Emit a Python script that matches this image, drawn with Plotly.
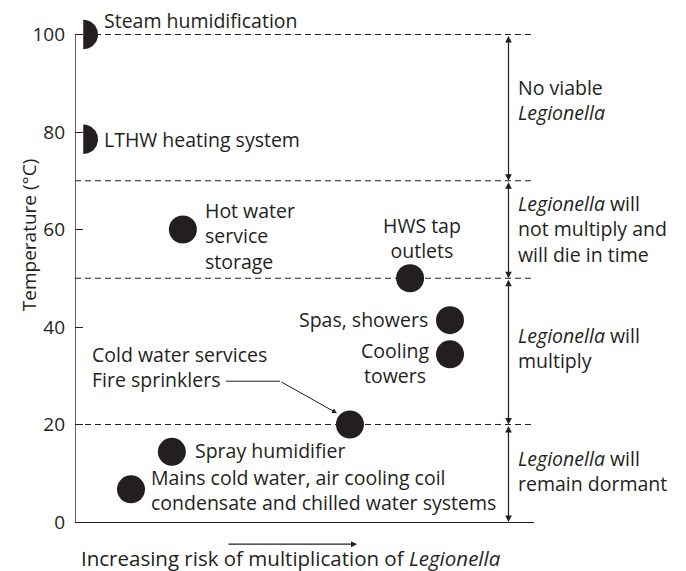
import numpy as np
import plotly.graph_objects as go

# ---------------- data ----------------
half_names = ["Steam humidification", "LTHW heating system"]
half_risk = [1.8, 1.8]
half_temp = [100, 78.5]

names = ["Hot water service storage", "HWS tap outlets", "Spas, showers",
         "Cooling towers", "Cold water services / Fire sprinklers",
         "Spray humidifier", "Mains cold water, air cooling coil condensate and chilled water systems"]
risk = [23.5, 73.0, 81.7, 81.7, 59.9, 21.1, 12.2]
temp = [60, 50, 41.4, 34.4, 20, 14.4, 6.7]

zone_bounds = [100, 70, 50, 20, 0]
zone_labels = [["No viable", "<i>Legionella</i>"],
               ["<i>Legionella</i> will", "not multiply and", "will die in time"],
               ["<i>Legionella</i> will", "multiply"],
               ["<i>Legionella</i> will", "remain dormant"]]
dashed_levels = [100, 70, 50, 20]
y_ticks = [0, 20, 40, 60, 80, 100]

# ---------------- layout constants ----------------
BODY = 8                      # default page margin around the plot div
W, H = 686 - BODY, 571 - BODY
ML, MT = 75 - BODY, 15 - BODY
PW, PH = 459, 507
MR, MB = W - ML - PW, H - MT - PH
XR = [0, 100]
YR = [0, 104]
px_x = (XR[1] - XR[0]) / PW   # data units per px
px_y = (YR[1] - YR[0]) / PH
X0, Y0 = 75, 521.8            # window px of data origin

def dx(p):  # window px -> x data
    return (p - X0) * px_x

def dy(p):  # window px -> y data
    return (Y0 - p) * px_y

INK = "#231f20"
FONT = "Open Sans"
FS = 19.5

fig = go.Figure()

# half circles at the axis
r_px = 14.8
th = np.linspace(-np.pi / 2, np.pi / 2, 60)
for xr, yt in zip(half_risk, half_temp):
    xs = list(xr + r_px * px_x * np.cos(th)) + [xr]
    ys = list(yt + r_px * px_y * np.sin(th)) + [yt - r_px * px_y]
    fig.add_trace(go.Scatter(x=xs, y=ys, mode="lines", fill="toself",
                             fillcolor=INK, line=dict(width=0, color=INK),
                             hoverinfo="skip", showlegend=False))

# full circles
fig.add_trace(go.Scatter(x=risk, y=temp, mode="markers",
                         marker=dict(size=28, color=INK, line=dict(width=0)),
                         text=names, hoverinfo="text", showlegend=False))

shapes = []
for lv in dashed_levels:
    shapes.append(dict(type="line", xref="x", yref="y", x0=0, x1=100, y0=lv, y1=lv,
                       line=dict(color=INK, width=1.2, dash="6px,4px"), layer="below"))
# y axis line (0..100)
shapes.append(dict(type="line", xref="x", yref="y", x0=0, x1=0, y0=0, y1=100,
                   line=dict(color=INK, width=1.4)))
# leader line for cold water services
shapes.append(dict(type="line", xref="x", yref="y", x0=dx(226), x1=dx(280), y0=dy(381), y1=dy(381),
                   line=dict(color=INK, width=1)))

ann = []
def label(px, lines, py_center, xanchor="left", align="left", size=FS):
    ann.append(dict(x=dx(px), y=dy(py_center), xref="x", yref="y", text="<br>".join(lines),
                    showarrow=False, xanchor=xanchor, yanchor="middle", align=align,
                    font=dict(family=FONT, size=size, color=INK)))

label(101.7, ["Steam humidification"], 20)
label(101.7, ["LTHW heating system"], 139)
label(203, ["Hot water", "service", "storage"], 236)
label(422, ["HWS tap", "outlets"], 238, xanchor="center", align="center")
label(430, ["Spas, showers"], 319, xanchor="right", align="right")
label(395, ["Cooling", "towers"], 363, xanchor="center", align="center")
label(90, ["Cold water services", "Fire sprinklers"], 367)
label(193, ["Spray humidifier"], 450.5)
label(149, ["Mains cold water, air cooling coil", "condensate and chilled water systems"], 490)

# leader arrow to cold water services
ann.append(dict(x=dx(337), y=dy(413), ax=dx(280), ay=dy(381), xref="x", yref="y", axref="x", ayref="y",
                showarrow=True, arrowhead=2, arrowsize=1, arrowwidth=1, arrowcolor=INK,
                standoff=0, text=""))

# zone arrows and labels
ZX = dx(508.5)
zone_center = [100, 229, 348, 471]
for i in range(4):
    top, bot = zone_bounds[i], zone_bounds[i + 1]
    ann.append(dict(x=ZX, y=bot, ax=ZX, ay=top, xref="x", yref="y", axref="x", ayref="y",
                    showarrow=True, arrowhead=2, startarrowhead=2, arrowside="end+start",
                    arrowsize=1.1, startarrowsize=1.1, arrowwidth=1.2, arrowcolor=INK,
                    standoff=0, startstandoff=0, text=""))
    label(515.7, zone_labels[i], zone_center[i])

# bottom arrow and caption (below the plot area -> paper y)
def py_paper(p):
    return (Y0 - p) / PH

ann.append(dict(x=dx(357), y=py_paper(544), ax=dx(227), ay=0, xref="x", yref="paper",
                axref="x", ayref="pixel",
                showarrow=True, arrowhead=2, arrowsize=1, arrowwidth=1.2, arrowcolor=INK,
                standoff=0, text=""))
ann.append(dict(x=(291 - X0) / PW, y=py_paper(557.3), xref="paper", yref="paper",
                text="Increasing risk of multiplication of <i>Legionella</i>",
                showarrow=False, xanchor="center", yanchor="middle",
                font=dict(family=FONT, size=20.5, color=INK)))
# y axis title
ann.append(dict(x=(29 - X0) / PW, y=py_paper(235), xref="paper", yref="paper",
                text="Temperature (°C)", textangle=-90, showarrow=False,
                xanchor="center", yanchor="middle",
                font=dict(family=FONT, size=19, color=INK)))

fig.update_layout(
    width=W, height=H, margin=dict(l=ML, r=MR, t=MT, b=MB, pad=0),
    paper_bgcolor="white", plot_bgcolor="white",
    shapes=shapes, annotations=ann, showlegend=False,
    xaxis=dict(range=XR, showgrid=False, zeroline=False, showticklabels=False,
               ticks="", showline=True, linecolor=INK, linewidth=1.4, fixedrange=True),
    yaxis=dict(range=YR, showgrid=False, zeroline=False, tickvals=y_ticks,
               ticks="inside", ticklen=8, tickwidth=1.2, tickcolor=INK,
               showline=False, ticklabelstandoff=9,
               tickfont=dict(family=FONT, size=19, color=INK), fixedrange=True),
)

fig.write_html("out.html")
